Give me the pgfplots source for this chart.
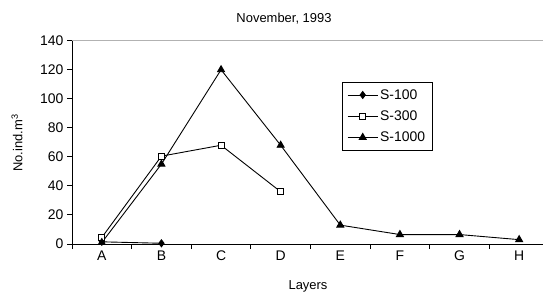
\documentclass[border=0pt]{standalone}
\usepackage{pgfplots}
\pgfplotsset{compat=1.18}
\usepackage{fontspec}
\setmainfont{Liberation Sans}
\begin{document}
\begin{tikzpicture}
\useasboundingbox (0,0) rectangle (543bp,295bp);
\begin{axis}[
  at={(72bp,51bp)}, anchor=south west,
  scale only axis, width=471bp, height=203.3bp,
  xmin=-0.5, xmax=7.4, ymin=0, ymax=140,
  axis x line=bottom, axis y line=left,
  axis line style={-, black, line width=1pt},
  xtick={-0.5,0.5,...,7.5}, xticklabels={},
  extra x ticks={0,...,7}, extra x tick labels={A,B,C,D,E,F,G,H},
  extra x tick style={major tick length=0pt, tick style={draw=none}},
  ytick={0,20,...,140},
  tick align=outside,
  major tick length=5bp,
  tick style={black, line width=1pt},
  /pgf/number format/assume math mode=true,
  tick label style={font=\fontsize{14}{16}\selectfont},
  xticklabel style={yshift=-3bp},
  clip=false,
  legend style={at={(0.573,0.797)}, anchor=north west, draw=black, line width=0.8pt,
    font=\fontsize{14}{16}\selectfont, row sep=6bp, inner sep=5bp},
  legend cell align=left,
  legend image code/.code={\draw[#1] (0bp,0bp) -- (30bp,0bp); \draw[#1, only marks] plot coordinates {(15bp,0bp)};},
]
\draw[gray!60, line width=0.8pt] (axis cs:-0.5,140) -- (axis cs:7.6,140);
\addplot[black, line width=0.9pt, mark=diamond*, mark size=3.5bp, mark options={fill=black}]
  coordinates {(0,1.5) (1,0.5)};
\addlegendentry{S-100}
\addplot[black, line width=0.9pt, mark=square*, mark size=3bp, mark options={fill=white}]
  coordinates {(0,4.5) (1,60.5) (2,68) (3,36)};
\addlegendentry{S-300}
\addplot[black, line width=0.9pt, mark=triangle*, mark size=4bp, mark options={fill=black}]
  coordinates {(0,1) (1,55) (2,120) (3,68) (4,13) (5,6.5) (6,6.5) (7,3)};
\addlegendentry{S-1000}
\end{axis}
\node[font=\fontsize{13}{15}\selectfont] at (284bp,276bp) {November, 1993};
\node[font=\fontsize{13}{15}\selectfont] at (308bp,9bp) {Layers};
\node[font=\fontsize{13}{15}\selectfont, rotate=90] at (17bp,152bp) {No.ind.m\textsuperscript{3}};
\end{tikzpicture}
\end{document}
